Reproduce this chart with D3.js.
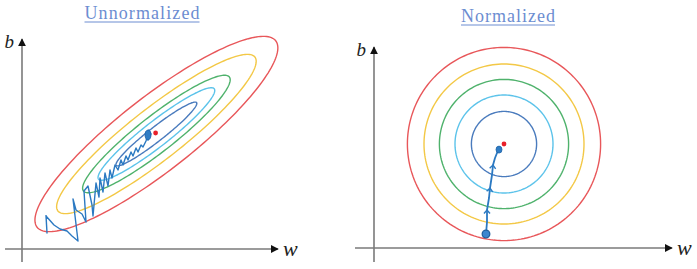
<!DOCTYPE html>
<html>
<head>
<meta charset="utf-8">
<script src="https://cdn.jsdelivr.net/npm/d3@7"></script>
<style>
  body { margin: 0; background: #fff; }
  svg { display: block; }
</style>
</head>
<body>
<div id="chart"></div>
<script>
// contour levels, outermost first
const levelColors = ["#e8575a", "#f3c846", "#4fb26c", "#5cc3ea", "#4a7bbd"];

// unnormalized: elongated ellipses (data units)
const leftCenter = [6.72, 5.75];
const leftAngle = 38;
const leftSemiMajor = [7.57, 6.25, 4.63, 3.67, 2.55];
const leftSemiMinor = [1.85, 1.3, 0.9, 0.63, 0.36];
const leftMin = [6.68, 5.8];
const leftPath = [
  [1.20, 1.70], [1.25, 0.80], [1.20, 1.65], [1.60, 1.20], [1.90, 1.00], [2.25, 0.90],
  [2.50, 0.65], [2.80, 0.40], [2.55, 2.50], [2.70, 1.95], [3.00, 1.75], [3.20, 1.35],
  [3.10, 2.90], [3.30, 3.15], [3.50, 2.20], [3.55, 1.65], [3.70, 3.30], [3.85, 2.60],
  [3.90, 3.55], [4.05, 2.85], [4.15, 3.80], [4.30, 3.15], [4.40, 3.95], [4.50, 3.55],
  [4.65, 4.20], [4.80, 3.95], [4.95, 4.45], [5.05, 4.20], [5.20, 4.65], [5.30, 4.45],
  [5.45, 4.85], [5.55, 4.65], [5.70, 5.05], [5.80, 4.85], [5.95, 5.20], [6.05, 5.10],
  [6.20, 5.40], [6.25, 5.60], [6.20, 5.85], [6.35, 5.95], [6.45, 5.75], [6.30, 5.45],
  [6.20, 5.65], [6.40, 5.70]
];
const leftBlob = [[6.30, 5.70]];

// normalized: concentric circles
const rightCenter = [6.5, 5.2];
const rightRadius = [4.83, 4.0, 3.23, 2.45, 1.63];
const rightMin = [6.5, 5.2];
const rightPath = [
  [5.60, 0.70], [5.65, 1.30], [5.65, 1.90], [5.75, 2.50], [5.80, 3.00], [5.90, 3.65],
  [5.95, 4.15], [6.05, 4.50], [6.15, 4.75], [6.25, 4.90], [6.30, 5.00]
];
const rightArrows = [2, 4, 6];
const rightBlob = [[6.25, 4.92]];

const W = 697, H = 269;
const svg = d3.select("#chart").append("svg")
  .attr("width", W).attr("height", H);

const defs = svg.append("defs");
defs.append("marker")
  .attr("id", "axisArrow")
  .attr("viewBox", "0 0 10 10")
  .attr("refX", 9).attr("refY", 5)
  .attr("markerWidth", 8).attr("markerHeight", 8)
  .attr("markerUnits", "userSpaceOnUse")
  .attr("orient", "auto")
  .append("path").attr("d", "M0,0L10,5L0,10Z").attr("fill", "#111");

const pathColor = "#2b79c2";
const line = d3.line();

function panel(opt) {
  const x = d3.scaleLinear().domain(opt.xDomain).range(opt.xRange);
  const y = d3.scaleLinear().domain(opt.yDomain).range(opt.yRange);
  const g = svg.append("g");

  // title
  g.append("text")
    .attr("x", opt.titleX).attr("y", opt.titleY)
    .attr("text-anchor", "middle")
    .attr("font-family", "Liberation Serif, serif")
    .attr("font-size", 18)
    .attr("textLength", opt.titleW)
    .attr("fill", "#6c8dd1")
    .text(opt.title);
  g.append("line")
    .attr("x1", opt.titleX - opt.titleW / 2).attr("x2", opt.titleX + opt.titleW / 2)
    .attr("y1", opt.titleY + 3).attr("y2", opt.titleY + 3)
    .attr("stroke", "#6c8dd1").attr("stroke-width", 1);

  // axes
  g.append("line")
    .attr("x1", x(opt.xDomain[0]) - opt.overX).attr("y1", y(0))
    .attr("x2", x(opt.xDomain[1])).attr("y2", y(0))
    .attr("stroke", "#7a7a7a").attr("stroke-width", 1.6)
    .attr("marker-end", "url(#axisArrow)");
  g.append("line")
    .attr("x1", x(0)).attr("y1", y(opt.yDomain[0]) + opt.overY)
    .attr("x2", x(0)).attr("y2", y(opt.yDomain[1]))
    .attr("stroke", "#7a7a7a").attr("stroke-width", 1.6)
    .attr("marker-end", "url(#axisArrow)");
  g.append("text")
    .attr("x", x(0) - 8).attr("y", y(opt.yDomain[1]) + 9)
    .attr("text-anchor", "end")
    .attr("font-family", "Liberation Serif, serif").attr("font-style", "italic")
    .attr("font-size", 19).attr("fill", "#222")
    .text("b");
  g.append("text")
    .attr("x", x(opt.xDomain[1]) + 5).attr("y", y(0) + 7)
    .attr("font-family", "Liberation Serif, serif").attr("font-style", "italic")
    .attr("font-size", 22).attr("fill", "#222")
    .text("w");

  // contours
  const angles = d3.range(0, 360, 2).map(d => d * Math.PI / 180);
  opt.contours.forEach((c, i) => {
    const th = c.angle * Math.PI / 180;
    const pts = angles.map(a => {
      const u = c.a * Math.cos(a), v = c.b * Math.sin(a);
      return [x(c.cx + u * Math.cos(th) - v * Math.sin(th)),
              y(c.cy + u * Math.sin(th) + v * Math.cos(th))];
    });
    g.append("path")
      .attr("d", d3.line().curve(d3.curveLinearClosed)(pts))
      .attr("fill", "none")
      .attr("stroke", levelColors[i])
      .attr("stroke-width", 1.4);
  });

  // descent path
  g.append("path")
    .attr("d", line(opt.path.map(p => [x(p[0]), y(p[1])])))
    .attr("fill", "none")
    .attr("stroke", pathColor)
    .attr("stroke-width", opt.pathW)
    .attr("stroke-linejoin", "round");

  (opt.arrows || []).forEach(i => {
    const p0 = opt.path[i - 1], p1 = opt.path[i];
    const ang = Math.atan2(y(p1[1]) - y(p0[1]), x(p1[0]) - x(p0[0])) * 180 / Math.PI;
    g.append("path")
      .attr("d", "M-3.5,-3L0,0L-3.5,3")
      .attr("transform", `translate(${x(p1[0])},${y(p1[1])}) rotate(${ang})`)
      .attr("fill", "none").attr("stroke", pathColor).attr("stroke-width", 1.4);
  });

  if (opt.start) {
    g.append("circle")
      .attr("cx", x(opt.path[0][0])).attr("cy", y(opt.path[0][1]))
      .attr("r", 3.8).attr("fill", "#3b86cf").attr("stroke", "#1f5f9e").attr("stroke-width", 1.3);
  }

  g.selectAll(null).data(opt.blob).join("ellipse")
    .attr("cx", d => x(d[0])).attr("cy", d => y(d[1]))
    .attr("rx", opt.blobR[0]).attr("ry", opt.blobR[1])
    .attr("fill", "#2f7cc4").attr("stroke", "#1f63a8").attr("stroke-width", 0.8);

  g.append("circle")
    .attr("cx", x(opt.min[0])).attr("cy", y(opt.min[1]))
    .attr("r", 2.4).attr("fill", "#e8202a");
}

panel({
  title: "Unnormalized", titleX: 142, titleY: 19, titleW: 115,
  xDomain: [0, 12.8], xRange: [22, 278],
  yDomain: [0, 10.5], yRange: [249, 39],
  overX: 17, overY: 13,
  contours: leftSemiMajor.map((a, i) => ({
    cx: leftCenter[0], cy: leftCenter[1], a: a, b: leftSemiMinor[i], angle: leftAngle
  })),
  path: leftPath, pathW: 1.4, blob: leftBlob, blobR: [3, 5], min: leftMin, start: false
});

panel({
  title: "Normalized", titleX: 508, titleY: 22, titleW: 94,
  xDomain: [0, 14.9], xRange: [374, 672],
  yDomain: [0, 10.05], yRange: [248, 47],
  overX: 19, overY: 14,
  contours: rightRadius.map(r => ({
    cx: rightCenter[0], cy: rightCenter[1], a: r, b: r, angle: 0
  })),
  path: rightPath, pathW: 1.8, arrows: rightArrows, blob: rightBlob, blobR: [3, 3.5], min: rightMin, start: true
});
</script>
</body>
</html>
